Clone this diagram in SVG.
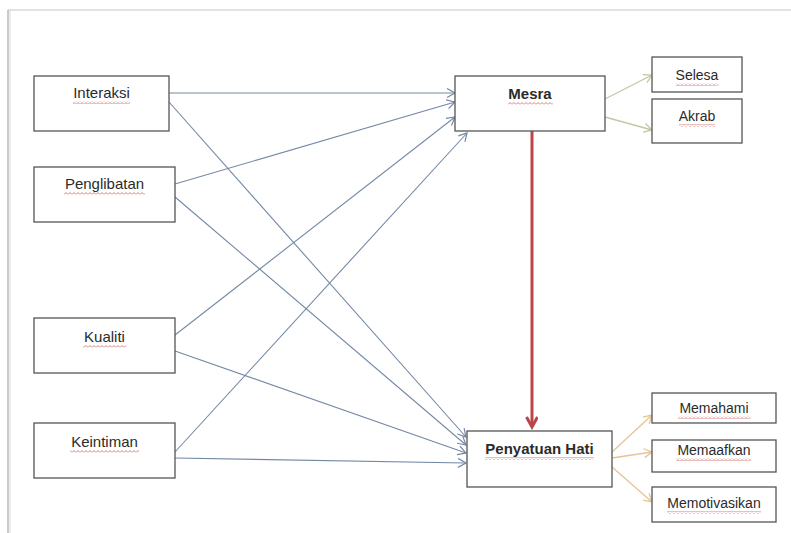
<svg xmlns="http://www.w3.org/2000/svg" width="791" height="533" viewBox="0 0 791 533">
<style>
.box{fill:#fff;stroke:#555;stroke-width:1.3}
.t{font-family:"Liberation Sans",Arial,sans-serif;font-size:15px;fill:#2b2b2b;text-anchor:middle}
.s{font-size:14px}
.b{font-weight:bold}
.blue{stroke:#7489a6;stroke-width:1.1;fill:none}
.green{stroke:#c3c7a2;stroke-width:1.3;fill:none}
.tan{stroke:#e3c596;stroke-width:1.3;fill:none}
.red{stroke:#b9474a;stroke-width:3;fill:none}
.sq{fill:url(#squig)}
</style>
<defs>
<pattern id="squig" patternUnits="userSpaceOnUse" width="4" height="3">
<path d="M0,2.5 L2,0.5 L4,2.5" fill="none" stroke="#d06060" stroke-width="0.8"/>
</pattern>
<marker id="aBlue" markerUnits="userSpaceOnUse" markerWidth="12" markerHeight="12" refX="9" refY="5" orient="auto">
<path d="M1,0.5 L9,5 L1,9.5" fill="none" stroke="#7489a6" stroke-width="1.2"/>
</marker>
<marker id="aGreen" markerUnits="userSpaceOnUse" markerWidth="12" markerHeight="12" refX="9" refY="5" orient="auto">
<path d="M1,0.5 L9,5 L1,9.5" fill="none" stroke="#c3c7a2" stroke-width="1.3"/>
</marker>
<marker id="aTan" markerUnits="userSpaceOnUse" markerWidth="12" markerHeight="12" refX="9" refY="5" orient="auto">
<path d="M1,0.5 L9,5 L1,9.5" fill="none" stroke="#e3c596" stroke-width="1.3"/>
</marker>
<marker id="aRed" markerUnits="userSpaceOnUse" markerWidth="14" markerHeight="14" refX="11" refY="6" orient="auto">
<path d="M1,0.5 L11,6 L1,11.5" fill="none" stroke="#b9474a" stroke-width="3"/>
</marker>
</defs>
<rect width="791" height="533" fill="#fff"/>
<g id="page">
<line x1="8" y1="10" x2="791" y2="10" stroke="#e2e2e2" stroke-width="2"/>
<line x1="8" y1="10" x2="8" y2="533" stroke="#b8b8b8" stroke-width="1.5"/>
<line x1="10" y1="11" x2="10" y2="533" stroke="#e6e6e6" stroke-width="1.5"/>
</g>
<g id="connectors">
<line class="blue" x1="169" y1="93" x2="455" y2="93" marker-end="url(#aBlue)"/>
<line class="blue" x1="169" y1="102" x2="466" y2="437" marker-end="url(#aBlue)"/>
<line class="blue" x1="175" y1="184" x2="455" y2="102" marker-end="url(#aBlue)"/>
<line class="blue" x1="175" y1="197" x2="466" y2="445" marker-end="url(#aBlue)"/>
<line class="blue" x1="175" y1="335" x2="455" y2="117" marker-end="url(#aBlue)"/>
<line class="blue" x1="175" y1="351" x2="466" y2="453" marker-end="url(#aBlue)"/>
<line class="blue" x1="175" y1="452" x2="467" y2="133" marker-end="url(#aBlue)"/>
<line class="blue" x1="175" y1="458" x2="466" y2="463" marker-end="url(#aBlue)"/>
<line class="red" x1="532" y1="131" x2="532" y2="427" marker-end="url(#aRed)"/>
<line class="green" x1="605" y1="99" x2="652" y2="75" marker-end="url(#aGreen)"/>
<line class="green" x1="605" y1="117" x2="652" y2="130" marker-end="url(#aGreen)"/>
<line class="tan" x1="612" y1="452" x2="652" y2="415" marker-end="url(#aTan)"/>
<line class="tan" x1="612" y1="458" x2="652" y2="452" marker-end="url(#aTan)"/>
<line class="tan" x1="612" y1="467" x2="652" y2="502" marker-end="url(#aTan)"/>
</g>
<g id="interaksi">
<rect class="box" x="34" y="76" width="135" height="55"/>
<text class="t" x="101.5" y="98">Interaksi</text>
<rect class="sq" x="73" y="101" width="57" height="3"/>
</g>
<g id="penglibatan">
<rect class="box" x="34" y="167" width="141" height="55"/>
<text class="t" x="104.5" y="189">Penglibatan</text>
<rect class="sq" x="64" y="192" width="81" height="3"/>
</g>
<g id="kualiti">
<rect class="box" x="34" y="318" width="141" height="55"/>
<text class="t" x="104.5" y="342">Kualiti</text>
<rect class="sq" x="83" y="345" width="43" height="3"/>
</g>
<g id="keintiman">
<rect class="box" x="34" y="423" width="141" height="55"/>
<text class="t" x="104.5" y="447">Keintiman</text>
<rect class="sq" x="70" y="450" width="69" height="3"/>
</g>
<g id="mesra">
<rect class="box" x="455" y="76" width="150" height="55"/>
<text class="t b" x="530" y="99">Mesra</text>
<rect class="sq" x="508" y="102" width="45" height="3"/>
</g>
<g id="selesa">
<rect class="box" x="652" y="57" width="90" height="35"/>
<text class="t s" x="697" y="80">Selesa</text>
<rect class="sq" x="676" y="83" width="42" height="3"/>
</g>
<g id="akrab">
<rect class="box" x="652" y="99" width="90" height="44"/>
<text class="t s" x="697" y="121">Akrab</text>
<rect class="sq" x="679" y="124" width="36" height="3"/>
</g>
<g id="penyatuan">
<rect class="box" x="467" y="431" width="145" height="56"/>
<text class="t b" x="539.5" y="454">Penyatuan Hati</text>
<rect class="sq" x="485" y="457" width="109" height="3"/>
</g>
<g id="memahami">
<rect class="box" x="652" y="393" width="124" height="30"/>
<text class="t s" x="714" y="413">Memahami</text>
<rect class="sq" x="678" y="416" width="72" height="3"/>
</g>
<g id="memaafkan">
<rect class="box" x="652" y="440" width="124" height="32"/>
<text class="t s" x="714" y="455">Memaafkan</text>
<rect class="sq" x="676" y="458" width="75" height="3"/>
</g>
<g id="memotivasikan">
<rect class="box" x="652" y="487" width="124" height="35"/>
<text class="t s" x="714" y="508">Memotivasikan</text>
<rect class="sq" x="667" y="511" width="94" height="3"/>
</g>
</svg>
